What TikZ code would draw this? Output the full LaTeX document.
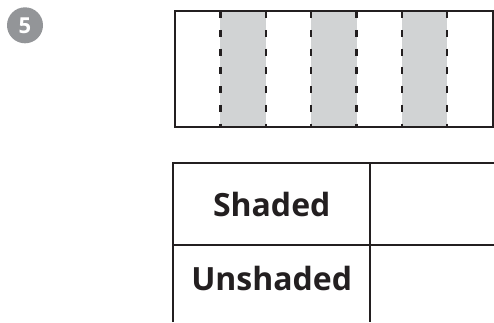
\documentclass[tikz,border=0pt]{standalone}
\usepackage{fontspec}
\setmainfont{Open Sans}
\usepackage{tikz}
\usetikzlibrary{positioning,calc}
\definecolor{badgegray}{HTML}{939598}
\definecolor{stripgray}{HTML}{D1D3D4}
\definecolor{ink}{HTML}{231F20}
\tikzset{
  badge/.style    = {circle,fill=badgegray,text=white,minimum size=36pt,inner sep=0pt,
                     font=\bfseries\fontsize{22}{22}\selectfont},
  strip/.style    = {fill=stripgray,draw=none},
  fold/.style     = {draw=ink,line width=2.3pt,dash pattern=on 7pt off 11.75pt},
  frame/.style    = {draw=ink,line width=2pt},
  grid/.style     = {draw=ink,line width=1.8pt},
  rowlabel/.style = {anchor=base,inner sep=0pt,text=ink,
                     font=\bfseries\fontsize{32}{32}\selectfont}
}
\begin{document}
\begin{tikzpicture}[x=1pt,y=-1pt]
    \useasboundingbox (0,0) rectangle (494,322);

    % exercise number
    \node[badge] (num) at (25,25.3) {5};

    % shaded strips of the folded paper
    \foreach \k in {1,3,5}{
      \fill[strip] ({175+\k*45.39},11) rectangle ({175+(\k+1)*45.39},127);
    }
    % fold lines
    \foreach \k in {1,...,6}{
      \draw[fold] ({175+\k*45.39},11) -- ({175+\k*45.39},127);
    }
    \draw[frame] (175,11) rectangle (492.7,127);

    % table
    \draw[grid] (173.3,322) -- (173.3,163.3) -- (494,163.3);
    \draw[grid] (173.3,245) -- (494,245);
    \draw[grid] (370,163.3) -- (370,322);

    \node[rowlabel] (shaded)   at (271.7,216.7) {Shaded};
    \node[rowlabel] (unshaded) at (271.7,290)   {Unshaded};
  \end{tikzpicture}
\end{document}
